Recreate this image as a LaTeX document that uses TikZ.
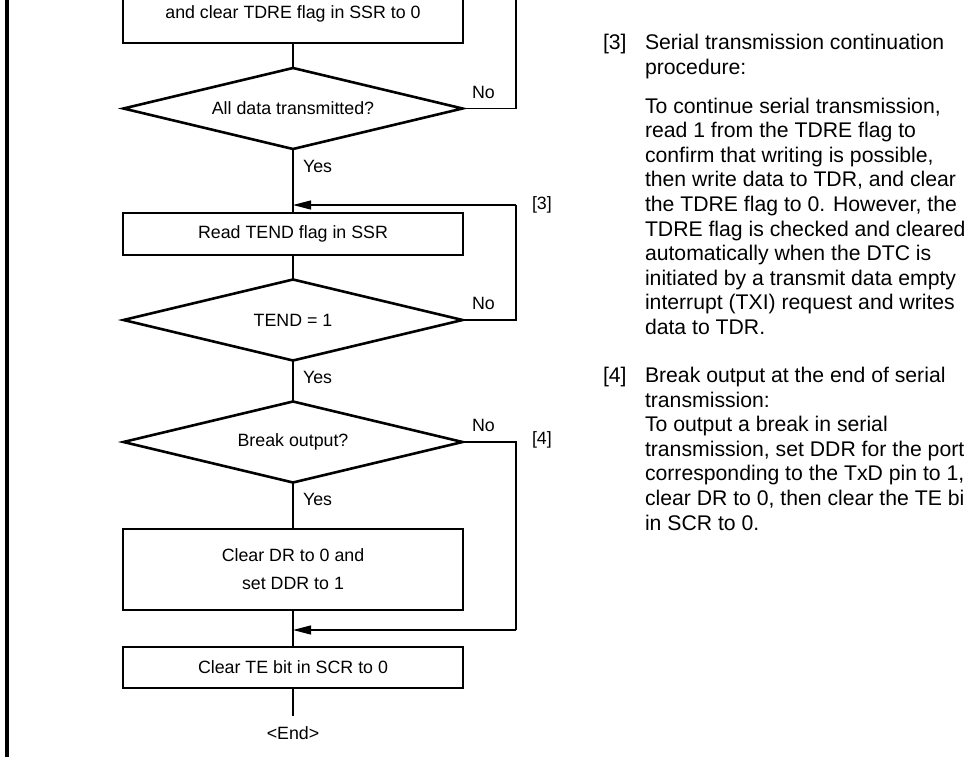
\documentclass[tikz,border=0pt]{standalone}
\usepackage{fontspec}
\setmainfont{Liberation Sans}
\usetikzlibrary{shapes.geometric,arrows.meta}
\newcommand\rline[3]{\node[rt] (#1) at (645,#2) {#3};}
\begin{document}
\begin{tikzpicture}[x=1pt,y=-1pt,
  every node/.style={inner sep=0pt,outer sep=0pt,font=\fontsize{17.8}{21}\selectfont},
  procbox/.style={draw,line width=2.6pt,minimum width=340pt},
  decision/.style={draw,diamond,aspect=4.19,line width=2.6pt,minimum width=339pt,minimum height=81pt},
  conn/.style={line width=1.3pt},
  arr/.style={-{Triangle[length=18pt,width=9pt]}},
  rt/.style={anchor=base west,font=\fontsize{21.2}{24.6}\selectfont},
  lbl/.style={anchor=west}]
\useasboundingbox (0,0) rectangle (964,757);
\clip (0,0) rectangle (964,757);
% left frame
\coordinate (fa) at (7,-5);
\coordinate (fb) at (7,762);
\draw[line width=3.5pt] (fa) -- (fb);
% flow chart
\node[procbox,minimum height=70pt] (b1) at (293,8) {};
\node (t1) at (293,14) {and clear TDRE flag in SSR to 0};
\node[decision] (d1) at (293,108.5) {All data transmitted?};
\node[procbox,minimum height=42pt] (b2) at (293,234) {Read TEND flag in SSR};
\node[decision] (d2) at (293,320) {TEND = 1};
\node[decision] (d3) at (293,442) {Break output?};
\node[procbox,minimum height=81pt,align=center,font=\fontsize{17.8}{28}\selectfont] (b3) at (293,569.5) {Clear DR to 0 and\\set DDR to 1};
\node[procbox,minimum height=41pt] (b4) at (293,667.5) {Clear TE bit in SCR to 0};
\node (e) at (293,733) {<End>};
\coordinate (ee) at (293,716);
% labels
\node[lbl] (n1) at (472,92) {No};
\node[lbl] (n2) at (472,303) {No};
\node[lbl] (n3) at (472,425) {No};
\node[lbl] (y1) at (303,166) {Yes};
\node[lbl] (y2) at (303,377) {Yes};
\node[lbl] (y3) at (303,499) {Yes};
\node[lbl] (k3) at (532,205) {[3]};
\node[lbl] (k4) at (532,440) {[4]};
% connectors
\coordinate (c1) at (516,-5);
\coordinate (r3) at (516,205);
\coordinate (a3) at (293,205);
\coordinate (r4) at (516,630);
\coordinate (a4) at (293,630);
\draw[conn] (b1.south) -- (d1.north);
\draw[conn] (d1.east) -| (c1);
\draw[conn] (d1.south) -- (b2.north);
\draw[conn] (b2.south) -- (d2.north);
\draw[conn] (d2.east) -| (r3);
\draw[conn,arr] (r3) -- (a3);
\draw[conn] (d2.south) -- (d3.north);
\draw[conn] (d3.south) -- (b3.north);
\draw[conn] (b3.south) -- (b4.north);
\draw[conn] (d3.east) -| (r4);
\draw[conn,arr] (r4) -- (a4);
\draw[conn] (b4.south) -- (ee);
% right-hand notes
\node[rt] (p3) at (603,49.5) {[3]};
\rline{a0}{49.5}{Serial transmission continuation}
\rline{a1}{74.1}{procedure:}
\rline{s0}{113.1}{To continue serial transmission,}
\rline{s1}{137.7}{read 1 from the TDRE flag to}
\rline{s2}{162.3}{confirm that writing is possible,}
\rline{s3}{186.9}{then write data to TDR, and clear}
\rline{s4}{211.5}{the TDRE flag to 0. However, the}
\rline{s5}{236.1}{TDRE flag is checked and cleared}
\rline{s6}{260.7}{automatically when the DTC is}
\rline{s7}{285.3}{initiated by a transmit data empty}
\rline{s8}{309.9}{interrupt (TXI) request and writes}
\rline{s9}{334.5}{data to TDR.}
\node[rt] (p4) at (603,382.5) {[4]};
\rline{u0}{382.5}{Break output at the end of serial}
\rline{u1}{407.1}{transmission:}
\rline{u2}{431.7}{To output a break in serial}
\rline{u3}{456.3}{transmission, set DDR for the port}
\rline{u4}{480.9}{corresponding to the TxD pin to 1,}
\rline{u5}{505.5}{clear DR to 0, then clear the TE bit}
\rline{u6}{530.1}{in SCR to 0.}
\end{tikzpicture}
\end{document}
